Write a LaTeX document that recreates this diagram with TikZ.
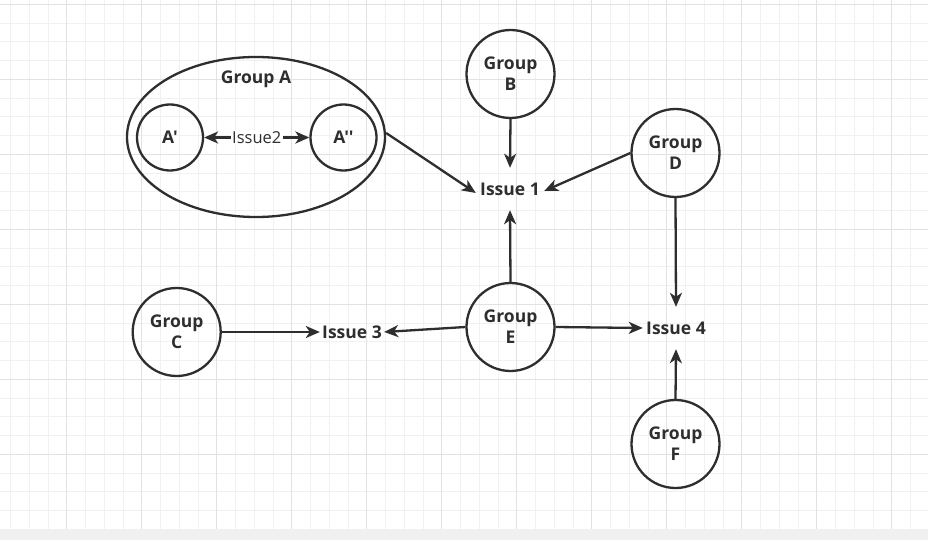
\documentclass[tikz,border=0pt]{standalone}
\usepackage{fontspec}
\setmainfont{Open Sans}[Ligatures=TeXOff]
\usetikzlibrary{arrows.meta,shapes.geometric}
\definecolor{ink}{HTML}{2E2E2E}
\definecolor{gridminor}{HTML}{F1F1F1}
\definecolor{gridmajor}{HTML}{E2E2E2}
\definecolor{strip}{HTML}{F0F0F0}
\tikzset{
  boldtext/.style={text=ink, font=\bfseries\fontsize{17.5}{21}\selectfont},
  grp/.style={circle, draw=ink, line width=2.3pt, minimum size=88pt, inner sep=0pt,
    align=center, boldtext},
  subgrp/.style={circle, draw=ink, line width=2.3pt, minimum size=66pt, inner sep=0pt,
    boldtext},
  issue/.style={inner sep=0pt, minimum width=68pt, minimum height=42pt, boldtext},
  tip/.tip={Stealth[length=14pt,width=12pt,inset=4pt]},
  conn/.style={draw=ink, line width=2.3pt, -tip},
  biconn/.style={draw=ink, line width=2.3pt, tip-tip},
}
\begin{document}
\begin{tikzpicture}[x=1pt,y=-1pt]
  \useasboundingbox (0,0) rectangle (928,540);
  \fill[white] (0,0) rectangle (928,529.3);
  \fill[strip] (0,529.3) rectangle (928,540);
  % grid
  \foreach \i in {0,...,49} \draw[gridminor, line width=1pt] (10.5+18.75*\i,0) -- (10.5+18.75*\i,529.3);
  \foreach \j in {0,...,27} \draw[gridminor, line width=1pt] (0,4.3+18.75*\j) -- (928,4.3+18.75*\j);
  \foreach \i in {0,...,11} \draw[gridmajor, line width=1pt] (66.75+75*\i,0) -- (66.75+75*\i,529.3);
  \foreach \j in {0,...,6} \draw[gridmajor, line width=1pt] (0,4.3+75*\j) -- (928,4.3+75*\j);

  % Group A
  \node[ellipse, draw=ink, line width=2.3pt, minimum width=258pt, minimum height=160pt, inner sep=0pt] (GA) at (256,137) {};
  \node[boldtext] (GAlabel) at (256,79) {Group A};
  \node[subgrp] (A1) at (170,137.5) {A'};
  \node[subgrp] (A2) at (343.5,137.5) {A''};
  \draw[biconn] (A1) -- node[fill=white, inner sep=1.5pt, text=ink, font=\fontsize{16.5}{20}\selectfont] (I2) {Issue2} (A2);

  % other groups
  \node[grp] (GB) at (510.5,74) {Group\\B};
  \node[grp] (GD) at (675.5,153) {Group\\D};
  \node[grp] (GC) at (176.7,332) {Group\\C};
  \node[grp] (GE) at (510.5,327) {Group\\E};
  \node[grp] (GF) at (675.5,444) {Group\\F};

  % issues
  \node[issue] (I1) at (510,189) {Issue 1};
  \node[issue, minimum width=64pt] (I3) at (352,332) {Issue 3};
  \node[issue, minimum width=66pt] (I4) at (676,328) {Issue 4};

  % connectors
  \draw[conn] ([yshift=4pt]GA.east) -- ([yshift=-4pt]I1.west);
  \draw[conn] (GB.south) -- (I1.north);
  \draw[conn] (GD.west) -- ([yshift=-2pt]I1.east);
  \draw[conn] (GE.north) -- (I1.south);
  \draw[conn] (GC.east) -- (I3.west);
  \draw[conn] (GE.west) -- (I3.east);
  \draw[conn] (GE.east) -- (I4.west);
  \draw[conn] (GD.south) -- (I4.north);
  \draw[conn] (GF.north) -- (I4.south);
\end{tikzpicture}
\end{document}
